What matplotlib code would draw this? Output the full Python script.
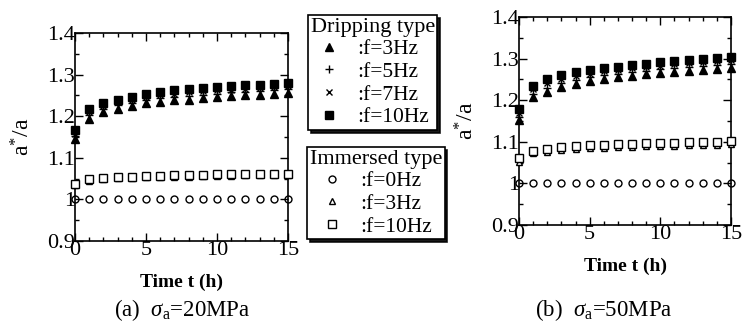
import matplotlib
matplotlib.use('Agg')
import matplotlib.pyplot as plt
from matplotlib.ticker import MultipleLocator, FuncFormatter
from matplotlib.lines import Line2D

plt.rcParams['font.family'] = ['Liberation Serif', 'DejaVu Serif']
plt.rcParams['mathtext.fontset'] = 'custom'
plt.rcParams['mathtext.rm'] = 'Liberation Serif'
plt.rcParams['mathtext.it'] = 'Liberation Serif:italic'

hours = [0, 1, 2, 3, 4, 5, 6, 7, 8, 9, 10, 11, 12, 13, 14, 15]

# (a) sigma_a = 20 MPa
a_drip3 = [1.145, 1.193, 1.210, 1.218, 1.224, 1.231, 1.235, 1.238, 1.240, 1.243, 1.246, 1.248, 1.250, 1.252, 1.254, 1.256]
a_drip5 = [1.152, 1.202, 1.218, 1.226, 1.232, 1.238, 1.243, 1.246, 1.249, 1.252, 1.254, 1.257, 1.259, 1.261, 1.263, 1.265]
a_drip7 = [1.158, 1.210, 1.225, 1.233, 1.240, 1.246, 1.250, 1.254, 1.257, 1.260, 1.262, 1.264, 1.266, 1.268, 1.270, 1.272]
a_drip10 = [1.167, 1.218, 1.232, 1.240, 1.247, 1.254, 1.258, 1.262, 1.265, 1.267, 1.270, 1.272, 1.274, 1.276, 1.278, 1.280]
a_imm0 = [1.0, 1.0, 1.0, 1.0, 1.0, 1.0, 1.0, 1.0, 1.0, 1.0, 1.0, 1.0, 1.0, 1.0, 1.0, 1.0]
a_imm3 = [1.035, 1.045, 1.049, 1.051, 1.052, 1.053, 1.054, 1.055, 1.055, 1.056, 1.057, 1.057, 1.058, 1.058, 1.059, 1.059]
a_imm10 = [1.038, 1.048, 1.052, 1.054, 1.055, 1.056, 1.057, 1.058, 1.058, 1.059, 1.060, 1.060, 1.061, 1.061, 1.062, 1.062]

# (b) sigma_a = 50 MPa
b_drip3 = [1.152, 1.207, 1.220, 1.232, 1.240, 1.247, 1.252, 1.256, 1.259, 1.262, 1.266, 1.268, 1.271, 1.273, 1.276, 1.278]
b_drip5 = [1.160, 1.216, 1.230, 1.241, 1.249, 1.255, 1.260, 1.264, 1.268, 1.271, 1.275, 1.277, 1.280, 1.282, 1.285, 1.287]
b_drip7 = [1.169, 1.226, 1.241, 1.251, 1.258, 1.264, 1.269, 1.273, 1.277, 1.280, 1.283, 1.286, 1.289, 1.291, 1.294, 1.296]
b_drip10 = [1.178, 1.235, 1.251, 1.260, 1.267, 1.272, 1.277, 1.281, 1.285, 1.288, 1.291, 1.294, 1.297, 1.299, 1.302, 1.304]
b_imm0 = [1.0, 1.0, 1.0, 1.0, 1.0, 1.0, 1.0, 1.0, 1.0, 1.0, 1.0, 1.0, 1.0, 1.0, 1.0, 1.0]
b_imm3 = [1.052, 1.072, 1.076, 1.080, 1.083, 1.085, 1.086, 1.087, 1.088, 1.089, 1.090, 1.091, 1.092, 1.092, 1.093, 1.094]
b_imm10 = [1.060, 1.079, 1.083, 1.087, 1.090, 1.092, 1.093, 1.094, 1.095, 1.096, 1.097, 1.098, 1.099, 1.099, 1.100, 1.101]

drip_labels = [':f=3Hz', ':f=5Hz', ':f=7Hz', ':f=10Hz']
imm_labels = [':f=0Hz', ':f=3Hz', ':f=10Hz']

drip_style = [dict(marker='^', ms=5.5, mfc='k', mec='k'),
              dict(marker='+', ms=6, mec='k', mew=1.0),
              dict(marker='x', ms=5, mec='k', mew=1.0),
              dict(marker='s', ms=5.2, mfc='k', mec='k')]
imm_style = [dict(marker='o', ms=5, mfc='none', mec='k', mew=1.0),
             dict(marker='^', ms=5, mfc='white', mec='k', mew=1.0),
             dict(marker='s', ms=5.5, mfc='white', mec='k', mew=1.0)]


def panel(ax, drip, imm):
    for ys, st in zip(imm, imm_style):
        ax.plot(hours, ys, ls='none', clip_on=False, zorder=3, **st)
    for ys, st in zip(drip, drip_style):
        ax.plot(hours, ys, ls='none', clip_on=False, zorder=3, **st)
    ax.set_xlim(0, 15)
    ax.set_ylim(0.9, 1.4)
    ax.xaxis.set_major_locator(MultipleLocator(5))
    ax.xaxis.set_minor_locator(MultipleLocator(1))
    ax.yaxis.set_major_locator(MultipleLocator(0.1))
    ax.yaxis.set_minor_locator(MultipleLocator(0.05))
    ax.yaxis.set_major_formatter(FuncFormatter(lambda v, p: '%g' % round(v, 2)))
    ax.tick_params(which='both', direction='in', top=True, right=True, width=1.0)
    ax.tick_params(which='major', length=6, labelsize=16)
    ax.tick_params(which='minor', length=3)
    ax.tick_params(axis='y', pad=0)
    ax.tick_params(axis='x', pad=0)
    for s in ax.spines.values():
        s.set_linewidth(1.2)
    ax.set_xlabel('Time t (h)', fontsize=14, fontweight='bold', labelpad=10)
    ax.set_ylabel(r'a$^{*}$/a', fontsize=17, labelpad=9)


fig = plt.figure(figsize=(7.42, 3.34), dpi=100)
ax1 = fig.add_axes([75/742, 1-241/334, 213/742, 208/334])
ax2 = fig.add_axes([519/742, 1-225/334, 212/742, 208/334])
panel(ax1, [a_drip3, a_drip5, a_drip7, a_drip10], [a_imm0, a_imm3, a_imm10])
panel(ax2, [b_drip3, b_drip5, b_drip7, b_drip10], [b_imm0, b_imm3, b_imm10])

fig.text(182/742, 1-310/334, r'(a)  $\sigma_{\rm a}$=20MPa', fontsize=16.5, ha='center', va='center')
fig.text(604/742, 1-310/334, r'(b)  $\sigma_{\rm a}$=50MPa', fontsize=16.5, ha='center', va='center')

drip_handles = [Line2D([], [], ls='none', **st) for st in drip_style]
imm_handles = [Line2D([], [], ls='none', **st) for st in imm_style]

leg_kw = dict(loc='upper left', frameon=True, fancybox=False, shadow=dict(color='k', alpha=0.9),
              edgecolor='k', framealpha=1, fontsize=15.5, title_fontsize=16,
              handlelength=1.2, handletextpad=0.7, borderpad=0.12, labelspacing=0.12,
              borderaxespad=0)
leg1 = fig.legend(drip_handles, drip_labels, title='Dripping type',
                  bbox_to_anchor=(308/742, 1-15/334), **leg_kw)
leg2 = fig.legend(imm_handles, imm_labels, title='Immersed type',
                  bbox_to_anchor=(307/742, 1-147/334), **leg_kw)
for leg in (leg1, leg2):
    leg.get_frame().set_linewidth(1.2)

fig.savefig('out.png', dpi=100)
